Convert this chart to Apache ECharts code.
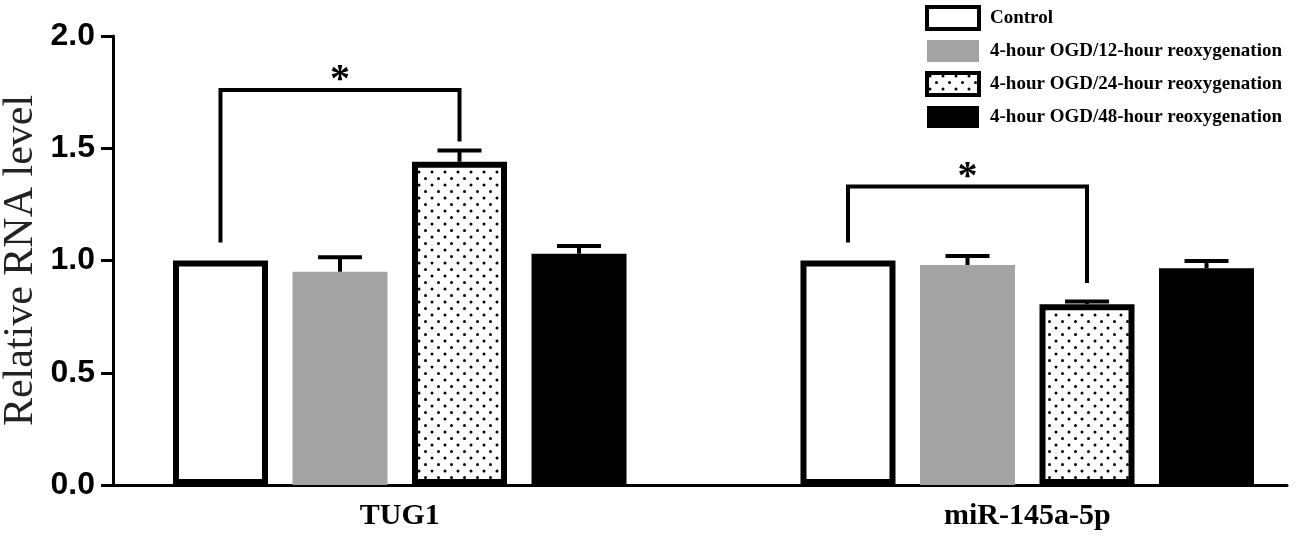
<!DOCTYPE html>
<html>
<head>
<meta charset="utf-8">
<script src="https://cdn.jsdelivr.net/npm/echarts@6/dist/echarts.min.js"></script>
<style>
  html, body { margin: 0; padding: 0; background: #fff; }
  #chart { width: 1300px; height: 536px; }
</style>
</head>
<body>
<div id="chart"></div>
<script>
// ---------------- data ----------------
const categories = ['TUG1', 'miR-145a-5p'];
const seriesNames = [
  'Control',
  '4-hour OGD/12-hour reoxygenation',
  '4-hour OGD/24-hour reoxygenation',
  '4-hour OGD/48-hour reoxygenation'
];
const controlValues = [1.00, 1.00];
const controlErrors = [0, 0];
const ogd12Values = [0.95, 0.98];
const ogd12Errors = [0.065, 0.04];
const ogd24Values = [1.44, 0.805];
const ogd24Errors = [0.05, 0.012];
const ogd48Values = [1.03, 0.965];
const ogd48Errors = [0.035, 0.033];
const yMin = 0, yMax = 2, yInterval = 0.5;
// significance brackets: category, first bar, second bar, bracket top, left leg end, right leg end
const bracketCategory = [0, 1];
const bracketFrom = [0, 0];
const bracketTo = [2, 2];
const bracketTop = [1.76, 1.33];
const bracketLeftEnd = [1.08, 1.08];
const bracketRightEnd = [1.53, 0.90];
const bracketLabel = ['*', '*'];

// ---------------- styles ----------------
const BAR_WIDTHS = [95, 95, 95, 95];
const BAR_GAP = 0.258;
const SERIF = "'Liberation Serif', 'Times New Roman', serif";
const SANS = "'Liberation Sans', Arial, sans-serif";

function dotPattern() {
  const c = document.createElement('canvas');
  c.width = 13; c.height = 13;
  const ctx = c.getContext('2d');
  ctx.fillStyle = '#fff';
  ctx.fillRect(0, 0, 13, 13);
  ctx.fillStyle = '#000';
  [[3, 3], [9.5, 9.5]].forEach(p => {
    ctx.beginPath(); ctx.arc(p[0], p[1], 1.5, 0, Math.PI * 2); ctx.fill();
  });
  return c;
}

// mirror of ECharts' bar offset layout
function barOffsets() {
  let total = 0;
  BAR_WIDTHS.forEach(w => { total += w * (1 + BAR_GAP); });
  total -= BAR_WIDTHS[BAR_WIDTHS.length - 1] * BAR_GAP;
  let off = -total / 2;
  return BAR_WIDTHS.map(w => { const c = off + w / 2; off += w * (1 + BAR_GAP); return c; });
}
const OFFSETS = barOffsets();

const valuesList = [controlValues, ogd12Values, ogd24Values, ogd48Values];
const errorsList = [controlErrors, ogd12Errors, ogd24Errors, ogd48Errors];
const PATTERN = { image: dotPattern(), repeat: 'repeat' };
const barStyles = [
  { color: '#ffffff', borderColor: '#000', borderWidth: 6 },
  { color: '#a3a3a3' },
  { color: PATTERN, borderColor: '#000', borderWidth: 6 },
  { color: '#000000' }
];
const legendStyles = [
  { color: '#ffffff', borderColor: '#000', borderWidth: 4 },
  { color: '#a3a3a3', borderWidth: 0 },
  { color: PATTERN, borderColor: '#000', borderWidth: 4 },
  { color: '#000000', borderWidth: 0 }
];

const errorData = [];
valuesList.forEach((vals, s) => {
  vals.forEach((v, c) => errorData.push([c, v, errorsList[s][c], s]));
});
const bracketData = bracketCategory.map((c, i) =>
  [c, bracketTop[i], bracketLeftEnd[i], bracketRightEnd[i], bracketFrom[i], bracketTo[i], i]);

const chart = echarts.init(document.getElementById('chart'), null, { renderer: 'canvas' });

const barSeries = seriesNames.map((name, s) => ({
  name: name,
  type: 'bar',
  xAxisIndex: 0,
  yAxisIndex: 0,
  barWidth: BAR_WIDTHS[s],
  barGap: (BAR_GAP * 100) + '%',
  data: valuesList[s],
  itemStyle: barStyles[s],
  emphasis: { disabled: true },
  z: 3
}));

const option = {
  animation: false,
  backgroundColor: '#fff',
  legend: {
    orient: 'vertical',
    left: 920,
    top: 0,
    padding: 5,
    itemWidth: 52,
    itemHeight: 22,
    itemGap: 9,
    icon: 'rect',
    data: seriesNames.map((n, s) => ({ name: n, itemStyle: legendStyles[s] })),
    textStyle: { fontFamily: SERIF, fontWeight: 'bold', fontSize: 19, lineHeight: 22, color: '#000', padding: [0, 0, 0, 6] },
    selectedMode: false
  },
  grid: [
    { left: 86, width: 1255, top: 36, height: 449, containLabel: false, outerBoundsMode: 'none' },
    { left: 113, width: 1174, top: 36, height: 449, containLabel: false, outerBoundsMode: 'none' }
  ],
  xAxis: [
    {
      type: 'category', gridIndex: 0, data: categories,
      axisLine: { show: false },
      axisTick: { show: false },
      axisLabel: { fontFamily: SERIF, fontWeight: 'bold', fontSize: 30, color: '#000', margin: 16 }
    },
    {
      type: 'value', gridIndex: 1, min: 0, max: 1,
      axisLine: { show: true, lineStyle: { color: '#000', width: 3 } },
      axisTick: { show: false }, axisLabel: { show: false }, splitLine: { show: false }
    }
  ],
  yAxis: [
    { type: 'value', gridIndex: 0, min: yMin, max: yMax, interval: yInterval, show: false },
    {
      type: 'value', gridIndex: 1, min: yMin, max: yMax, interval: yInterval,
      name: 'Relative RNA level', nameLocation: 'middle', nameGap: 71, nameMoveOverlap: false,
      nameTextStyle: { fontFamily: SERIF, fontSize: 42, color: '#222' },
      axisLine: { show: true, lineStyle: { color: '#000', width: 3 } },
      axisTick: { show: true, length: 12, lineStyle: { color: '#000', width: 3 } },
      axisLabel: { formatter: v => v.toFixed(1), fontFamily: SANS, fontWeight: 'bold', fontSize: 32, color: '#000', margin: 18 },
      splitLine: { show: false }
    }
  ],
  series: barSeries.concat([
    {
      type: 'custom',
      name: 'errors',
      xAxisIndex: 0, yAxisIndex: 0,
      data: errorData,
      encode: { x: 0, y: 1 },
      z: 5,
      silent: true,
      renderItem: function (params, api) {
        const c = api.value(0), v = api.value(1), e = api.value(2), s = api.value(3);
        if (!e) return null;
        const x = api.coord([c, 0])[0] + OFFSETS[s];
        const y0 = api.coord([c, v])[1];
        const y1 = api.coord([c, v + e])[1];
        return {
          type: 'group', children: [
            { type: 'line', shape: { x1: x, y1: y0, x2: x, y2: y1 }, style: { stroke: '#000', lineWidth: 4 } },
            { type: 'line', shape: { x1: x - 22, y1: y1, x2: x + 22, y2: y1 }, style: { stroke: '#000', lineWidth: 4 } }
          ]
        };
      }
    },
    {
      type: 'custom',
      name: 'brackets',
      xAxisIndex: 0, yAxisIndex: 0,
      data: bracketData,
      encode: { x: 0, y: 1 },
      z: 6,
      silent: true,
      renderItem: function (params, api) {
        const c = api.value(0);
        const top = api.coord([c, api.value(1)])[1];
        const yl = api.coord([c, api.value(2)])[1];
        const yr = api.coord([c, api.value(3)])[1];
        const cx = api.coord([c, 0])[0];
        const xl = cx + OFFSETS[api.value(4)];
        const xr = cx + OFFSETS[api.value(5)];
        return {
          type: 'group', children: [
            { type: 'polyline', shape: { points: [[xl, yl], [xl, top], [xr, top], [xr, yr]] },
              style: { stroke: '#000', lineWidth: 4, fill: null, lineJoin: 'miter' } },
            { type: 'text', x: (xl + xr) / 2, y: top + 11,
              style: { text: bracketLabel[api.value(6)], fontFamily: SERIF, fontWeight: 'bold', fontSize: 40,
                       fill: '#000', align: 'center', verticalAlign: 'bottom' } }
          ]
        };
      }
    }
  ])
};
chart.setOption(option);
</script>
</body>
</html>
